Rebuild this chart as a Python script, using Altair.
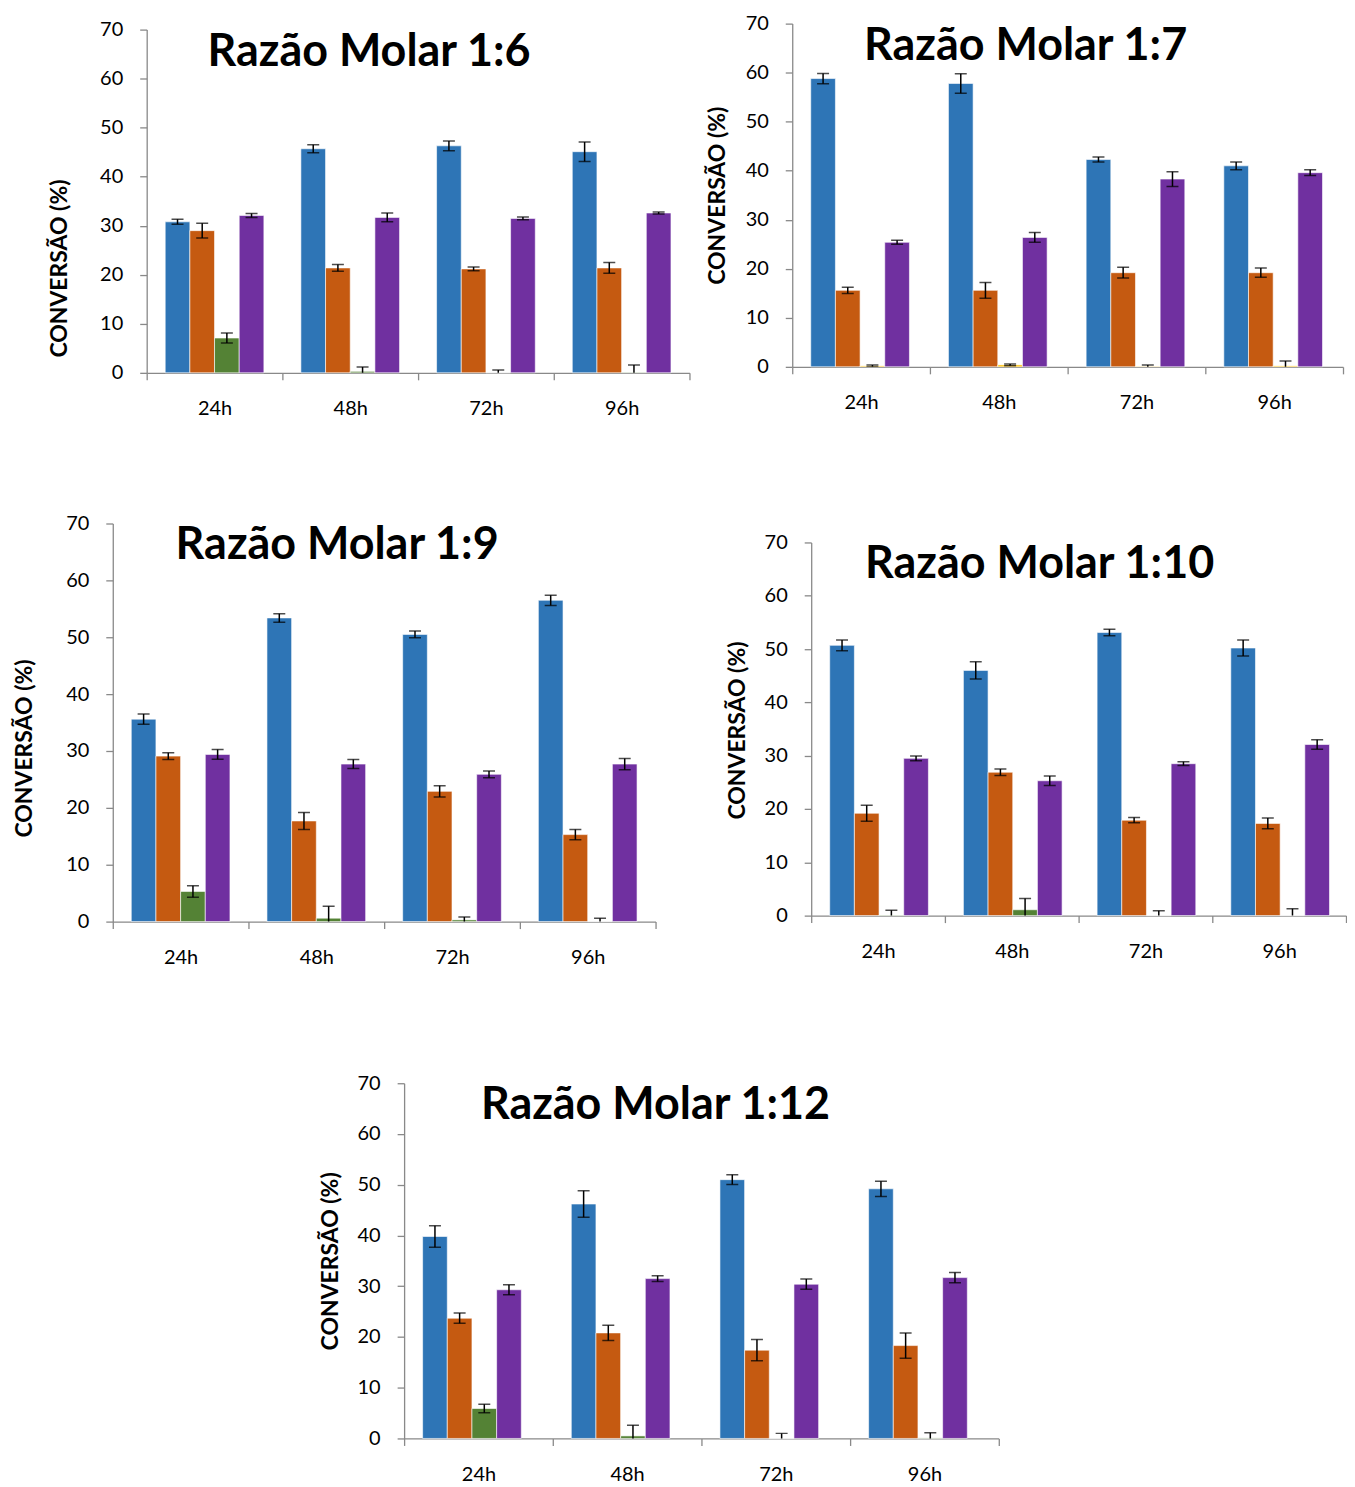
import altair as alt
import pandas as pd

TEMPOS = ["24h", "48h", "72h", "96h"]
SERIES = ["S1", "S2", "S3", "S4"]

AZUL, LARANJA, VERDE, ROXO, AMARELO = "#2E75B6", "#C55A11", "#548235", "#7030A0", "#FFC000"

# Razão Molar 1:6
r16_med = [[30.8, 45.7, 46.3, 45.1], [29.0, 21.4, 21.2, 21.4], [7.1, 0.3, 0.0, 0.1], [32.1, 31.7, 31.5, 32.6]]
r16_err = [[0.5, 0.8, 1.0, 2.0], [1.5, 0.7, 0.4, 1.1], [1.0, 0.9, 0.6, 1.5], [0.4, 0.9, 0.3, 0.2]]
# Razão Molar 1:7
r17_med = [[58.8, 57.8, 42.3, 41.0], [15.6, 15.6, 19.2, 19.2], [0.2, 0.4, 0.1, 0.2], [25.4, 26.4, 38.3, 39.6]]
r17_err = [[1.05, 2.0, 0.5, 0.8], [0.65, 1.6, 1.1, 0.95], [0.2, 0.2, 0.3, 1.0], [0.4, 1.0, 1.5, 0.6]]
# Razão Molar 1:9
r19_med = [[35.6, 53.4, 50.5, 56.5], [29.1, 17.7, 22.9, 15.3], [5.3, 0.6, 0.3, 0.0], [29.4, 27.7, 25.9, 27.7]]
r19_err = [[0.9, 0.75, 0.6, 0.9], [0.6, 1.5, 1.0, 0.9], [1.0, 2.1, 0.5, 0.6], [0.85, 0.8, 0.6, 1.0]]
# Razão Molar 1:10
r110_med = [[50.7, 46.0, 53.1, 50.2], [19.2, 26.9, 17.9, 17.3], [0.1, 1.1, 0.0, 0.0], [29.5, 25.3, 28.5, 32.1]]
r110_err = [[1.0, 1.6, 0.6, 1.5], [1.5, 0.6, 0.5, 1.0], [0.9, 2.1, 0.9, 1.3], [0.45, 0.9, 0.35, 0.9]]
# Razão Molar 1:12
r112_med = [[39.8, 46.2, 51.0, 49.2], [23.7, 20.8, 17.4, 18.3], [5.9, 0.5, 0.0, 0.1], [29.3, 31.5, 30.4, 31.7]]
r112_err = [[2.1, 2.6, 0.95, 1.5], [1.0, 1.5, 2.1, 2.5], [0.85, 2.1, 1.0, 1.0], [1.0, 0.55, 1.0, 1.0]]

Y_TICKS = [0, 10, 20, 30, 40, 50, 60, 70]
FONTE = "Lato"
CINZA = "#898989"


def painel(titulo, medias, erros, cores, banda, altura, titulo_dx, ytit_x, ytit_y):
    linhas = []
    for si, serie in enumerate(SERIES):
        for ti, t in enumerate(TEMPOS):
            v = medias[si][ti]
            e = erros[si][ti]
            linhas.append(dict(tempo=t, serie=serie, valor=v, lo=v - e, hi=v + e, cor=cores[si]))
    df = pd.DataFrame(linhas)

    eixo_x = alt.Axis(title=None, labelAngle=0, tickBand="extent", tickSize=7, labelPadding=19,
                      labelFont=FONTE, labelFontSize=20, labelColor="black",
                      domainColor=CINZA, tickColor=CINZA, domainWidth=1.3, tickWidth=1.3)
    eixo_y = alt.Axis(title="CONVERSÃO (%)", values=Y_TICKS, format="d", grid=False, tickSize=7,
                      labelPadding=17, labelFont=FONTE, labelFontSize=20, labelColor="black",
                      domainColor=CINZA, tickColor=CINZA, domainWidth=1.3, tickWidth=1.3,
                      titleFont=FONTE, titleFontSize=23, titleFontWeight="bold", titleColor="black",
                      titleAngle=270, titleAlign="center", titleBaseline="middle",
                      titleX=ytit_x, titleY=ytit_y)

    def yenc(campo):
        return alt.Y(campo, title="CONVERSÃO (%)",
                     scale=alt.Scale(domain=[0, 70], nice=False, zero=True), axis=eixo_y)

    base = alt.Chart(df).encode(
        x=alt.X("tempo:N", sort=TEMPOS, title=None,
                scale=alt.Scale(paddingInner=0, paddingOuter=0), axis=eixo_x),
        xOffset=alt.XOffset("serie:N", sort=SERIES,
                            scale=alt.Scale(paddingInner=0, paddingOuter=0.75)),
    )
    barras = base.mark_bar(stroke="white", strokeWidth=1, strokeOpacity=0.6).encode(
        y=yenc("valor:Q"), color=alt.Color("cor:N", scale=None))
    hastes = base.mark_rule(color="black", strokeWidth=1.5, clip=True).encode(
        y=yenc("lo:Q"), y2="hi:Q")
    topo = base.mark_tick(color="black", size=12, thickness=1.5, clip=True).encode(y=yenc("hi:Q"))
    fundo = base.mark_tick(color="black", size=12, thickness=1.5, clip=True).encode(y=yenc("lo:Q"))

    cabecalho = alt.Chart(pd.DataFrame({"t": [titulo]})).mark_text(
        align="left", baseline="alphabetic", font=FONTE, fontSize=45, fontWeight="bold", color="black"
    ).encode(x=alt.value(titulo_dx), y=alt.value(36), text="t:N")

    return alt.layer(barras, hastes, topo, fundo, cabecalho).properties(width=4 * banda, height=altura)


def espaco(w, h):
    return alt.Chart(pd.DataFrame({"a": [0]})).mark_rect(opacity=0).encode(
        x=alt.value(0), x2=alt.value(w), y=alt.value(0), y2=alt.value(h)
    ).properties(width=w, height=h)


def desce(p, h):
    return alt.vconcat(espaco(1, h), p, spacing=0)


p1 = painel("Razão Molar 1:6", r16_med, r16_err, [AZUL, LARANJA, VERDE, ROXO], 136, 344, 61, -87, 239)
p2 = painel("Razão Molar 1:7", r17_med, r17_err, [AZUL, LARANJA, AMARELO, ROXO], 138, 344, 72, -75, 172)
p3 = painel("Razão Molar 1:9", r19_med, r19_err, [AZUL, LARANJA, VERDE, ROXO], 136, 399, 63, -88, 225)
p4 = painel("Razão Molar 1:10", r110_med, r110_err, [AZUL, LARANJA, VERDE, ROXO], 134, 374, 54, -74, 188)
p5 = painel("Razão Molar 1:12", r112_med, r112_err, [AZUL, LARANJA, VERDE, ROXO], 149, 356, 77, -74, 178)

linha1 = alt.hconcat(espaco(40.5, 1), desce(p1, 10), espaco(15.5, 1), desce(p2, 4), spacing=0)
linha2 = alt.hconcat(espaco(5.5, 1), desce(p3, 1), espaco(69.5, 1), desce(p4, 20), spacing=0)
linha3 = alt.hconcat(espaco(311.5, 1), desce(p5, 1), spacing=0)

chart = alt.concat(linha1, espaco(1, 94), linha2, espaco(1, 105), linha3,
                   columns=1, spacing=0).properties(
    padding={"left": 0, "top": 0, "right": 0, "bottom": 0}
).configure_view(strokeWidth=0)

chart.save("out.html", embed_options={"renderer": "svg", "actions": False})
